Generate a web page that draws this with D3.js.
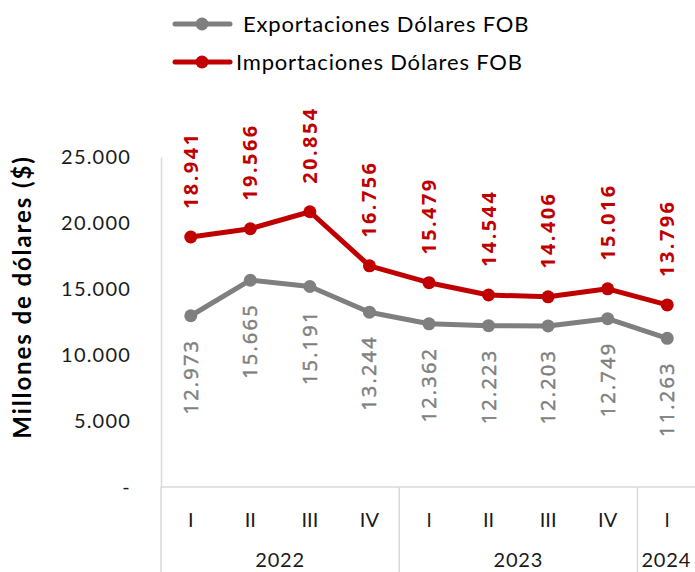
<!DOCTYPE html>
<html><head><meta charset="utf-8">
<script src="https://cdn.jsdelivr.net/npm/d3@7"></script>
<style>body{margin:0;background:#fff}svg{display:block}</style>
</head><body>
<svg id="c" width="695" height="572"></svg>
<script>
const quarters = ["I","II","III","IV","l","II","III","IV","l"];
const years = [{label:"2022", n:4},{label:"2023", n:4},{label:"2024", n:1}];
const exportaciones = [12973,15665,15191,13244,12362,12223,12203,12749,11263];
const importaciones = [18941,19566,20854,16756,15479,14544,14406,15016,13796];
const yTicks = [0,5000,10000,15000,20000,25000];
const seriesNames = ["Exportaciones Dólares FOB","Importaciones Dólares FOB"];

(function(){
const svg = d3.select("#c");
const pLeft = 161, pRight = 697, pTop = 157, pBottom = 487;
const FONT = "Lato, 'DejaVu Sans', sans-serif";
const LFONT = "'Open Sans', sans-serif";
const idx = d3.range(quarters.length);
const x = d3.scaleBand().domain(idx).range([pLeft, pRight]).padding(0);
const y = d3.scaleLinear().domain([0,25000]).range([pBottom, pTop]);
const cx = i => x(i) + x.bandwidth()/2;
const fmt = v => v === 0 ? "-" : d3.format(",")(v).replace(/,/g, ".");
const gray = "#7f7f7f", red = "#c00000", axisCol = "#d9d9d9";

// y axis
const yAxis = d3.axisLeft(y).tickValues(yTicks).tickFormat(fmt).tickSize(0).tickPadding(30);
const ga = svg.append("g").attr("transform", `translate(${pLeft},0)`).call(yAxis);
ga.select(".domain").attr("stroke", axisCol).attr("stroke-width", 1.5);
ga.selectAll("text").attr("font-family", FONT).attr("font-size", 20)
  .attr("letter-spacing", 1.2).attr("fill", "#1a1a1a");

// x axis line
svg.append("line").attr("x1", pLeft).attr("x2", 695).attr("y1", pBottom).attr("y2", pBottom)
  .attr("stroke", axisCol).attr("stroke-width", 1.5);
// separators
let acc = 0;
const seps = [0];
years.forEach(yr => { acc += yr.n; seps.push(acc); });
seps.forEach(s => {
  svg.append("line").attr("x1", x(0) + s*x.bandwidth()).attr("x2", x(0) + s*x.bandwidth())
    .attr("y1", pBottom).attr("y2", 572).attr("stroke", axisCol).attr("stroke-width", 1.5);
});
// quarter labels
svg.append("g").selectAll("text").data(idx).join("text")
  .attr("x", d => cx(d)).attr("y", 527).attr("text-anchor", "middle")
  .attr("font-family", FONT).attr("font-size", 20).attr("fill", "#1a1a1a")
  .text(d => quarters[d]);
// year labels
acc = 0;
years.forEach(yr => {
  const x0 = x(0) + acc*x.bandwidth(), x1 = x(0) + (acc+yr.n)*x.bandwidth();
  acc += yr.n;
  const xm = yr.n === 1 ? x0 + 4 : (x0 + x1)/2;
  svg.append("text").attr("x", xm).attr("y", 567)
    .attr("text-anchor", yr.n === 1 ? "start" : "middle")
    .attr("font-family", FONT).attr("font-size", 20).attr("letter-spacing", 0.8)
    .attr("fill", "#1a1a1a").text(yr.label);
});

// y title
svg.append("text").attr("transform", `translate(31,297) rotate(-90)`).attr("text-anchor", "middle")
  .attr("font-family", FONT).attr("font-weight", "bold").attr("font-size", 24)
  .attr("letter-spacing", 1.9).attr("fill", "#000")
  .text("Millones de dólares ($)");

// lines
const line = d3.line().x((d,i) => cx(i)).y(d => y(d));
[[exportaciones, gray],[importaciones, red]].forEach(([data, col]) => {
  svg.append("path").datum(data).attr("d", line).attr("fill", "none")
    .attr("stroke", col).attr("stroke-width", 5).attr("stroke-linejoin", "round");
  svg.append("g").selectAll("circle").data(data).join("circle")
    .attr("cx", (d,i) => cx(i)).attr("cy", d => y(d)).attr("r", 6.5).attr("fill", col);
});

// labels
svg.append("g").selectAll("text").data(importaciones).join("text")
  .attr("transform", (d,i) => `translate(${cx(i)+7},${y(d)-28}) rotate(-90)`)
  .attr("text-anchor", "start")
  .attr("font-family", LFONT).attr("font-weight", "bold").attr("font-size", 20)
  .attr("letter-spacing", 2.4).attr("fill", red).text(d => fmt(d));
svg.append("g").selectAll("text").data(exportaciones).join("text")
  .attr("transform", (d,i) => `translate(${cx(i)+7},${y(d)+23}) rotate(-90)`)
  .attr("text-anchor", "end")
  .attr("font-family", LFONT).attr("font-size", 20)
  .attr("stroke", gray).attr("stroke-width", 0.5)
  .attr("letter-spacing", 2.2).attr("fill", gray).text(d => fmt(d));

// legend
const leg = svg.append("g");
[[gray, 24, 243],[red, 62, 236]].forEach(([col, ly, tx], k) => {
  leg.append("line").attr("x1", 175).attr("x2", 230).attr("y1", ly).attr("y2", ly)
    .attr("stroke", col).attr("stroke-width", 5).attr("stroke-linecap", "round");
  leg.append("circle").attr("cx", 202).attr("cy", ly).attr("r", 6.5).attr("fill", col);
  leg.append("text").attr("x", tx).attr("y", ly + 8).attr("font-family", FONT)
    .attr("font-size", 22).attr("letter-spacing", 0.8).attr("fill", "#000").text(seriesNames[k]);
});
})();
</script>
</body></html>
